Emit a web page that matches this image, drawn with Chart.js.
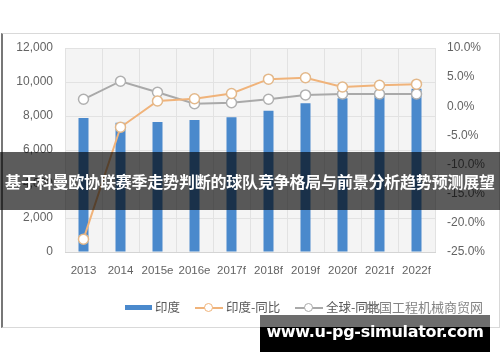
<!DOCTYPE html>
<html>
<head>
<meta charset="utf-8">
<script src="https://cdn.jsdelivr.net/npm/chart.js"></script>
<style>
  html, body { margin: 0; padding: 0; background: #ffffff; }
  #wrap { position: relative; width: 500px; height: 362px; overflow: hidden; font-family: "Liberation Sans", "Noto Sans CJK SC", sans-serif; }
  #frame { position: absolute; left: 1px; top: 33px; width: 496px; height: 293px; border: 1px solid #d9d9d9; border-left: 2px solid #777; }
  canvas { position: absolute; left: 0; top: 0; }
  #legend { position: absolute; top: 298px; left: 0; width: 500px; height: 18px; font: 12.5px "Noto Sans CJK SC", sans-serif; color: #595959; }
  #legend span { position: absolute; top: 0; line-height: 18px; white-space: nowrap; }
  .sw { position: absolute; }
  #banner { position: absolute; left: 0; top: 152px; width: 500px; height: 58px; background: rgba(0,0,0,0.64); color: #fff; font: bold 16px "Noto Sans CJK SC", sans-serif; line-height: 58px; text-align: center; white-space: nowrap; letter-spacing: -0.2px; }
  #wm1 { position: absolute; left: 366px; top: 297px; font: 13px "Noto Sans CJK SC", sans-serif; color: rgba(110,110,110,0.85); white-space: nowrap; }
  #wmgray { position: absolute; left: 260px; top: 315px; width: 230px; height: 12px; background: #6d6d6d; }
  #wmblack { position: absolute; left: 260px; top: 327px; width: 230px; height: 25px; background: #000; }
  #wmtext { position: absolute; left: 260px; top: 322px; width: 230px; height: 28px; line-height: 28px; text-align: center; color: #fff; font: bold 16px "DejaVu Sans", sans-serif; white-space: nowrap; letter-spacing: -0.3px; }
</style>
</head>
<body>
<div id="wrap">
  <div id="frame"></div>
  <canvas id="c" width="500" height="362"></canvas>
  <div id="legend"></div>
  <div id="wm1">中国工程机械商贸网</div>
  <div id="banner">基于科曼欧协联赛季走势判断的球队竞争格局与前景分析趋势预测展望</div>
  <div id="wmgray"></div>
  <div id="wmblack"></div>
  <div id="wmtext">www.u-pg-simulator.com</div>
</div>
<script>
const categories = ["2013", "2014", "2015e", "2016e", "2017f", "2018f", "2019f", "2020f", "2021f", "2022f"];
const indiaSales = [7880, 7600, 7650, 7760, 7920, 8310, 8750, 9040, 9400, 9600];
const indiaYoY = [-22.8, -3.6, 0.9, 1.3, 2.2, 4.65, 4.9, 3.3, 3.6, 3.8];
const globalYoY = [1.2, 4.3, 2.4, 0.45, 0.6, 1.2, 1.95, 2.1, 2.1, 2.1];
const seriesNames = ["印度", "印度-同比", "全球-同比"];
const leftTicks = { min: 0, max: 12000, step: 2000 };
const rightTicks = { min: -25, max: 10, step: 5 };

const barColor = "#4a89cc";
const orangeColor = "#f0b37a";
const greyColor = "#a9a9a9";
const labelColor = "#636363";

const plotBg = {
  id: "plotBg",
  beforeDraw(chart) {
    const a = chart.chartArea, ctx = chart.ctx;
    ctx.save();
    ctx.fillStyle = "#f4f4f4";
    ctx.fillRect(a.left, a.top, a.right - a.left, a.bottom - a.top);
    ctx.restore();
  }
};

new Chart(document.getElementById("c"), {
  data: {
    labels: categories,
    datasets: [
      { type: "line", label: seriesNames[1], data: indiaYoY, yAxisID: "y1", order: 1,
        borderColor: orangeColor, borderWidth: 2, pointRadius: 5, pointBorderWidth: 1.5,
        pointBackgroundColor: "#ffffff", pointBorderColor: "#e3b88a", tension: 0 },
      { type: "line", label: seriesNames[2], data: globalYoY, yAxisID: "y1", order: 2,
        borderColor: greyColor, borderWidth: 2, pointRadius: 5, pointBorderWidth: 1.5,
        pointBackgroundColor: "#ffffff", pointBorderColor: "#b0b0b0", tension: 0 },
      { type: "bar", label: seriesNames[0], data: indiaSales, yAxisID: "y", order: 3,
        backgroundColor: barColor, barPercentage: 0.54, categoryPercentage: 0.5 }
    ]
  },
  options: {
    responsive: false,
    animation: false,
    layout: { padding: { left: 0, right: 0, top: 48, bottom: 80 } },
    plugins: { legend: { display: false }, tooltip: { enabled: false } },
    scales: {
      x: {
        offset: true,
        grid: { color: "#e2e2e2", drawTicks: false, offset: true },
        border: { color: "#d4d4d4" },
        ticks: { color: labelColor, font: { family: "Liberation Sans", size: 11.5 }, padding: 12, maxRotation: 0, autoSkip: false },
        afterFit(s) { s.height = 30; }
      },
      y: {
        position: "left", min: leftTicks.min, max: leftTicks.max,
        grid: { color: "#e2e2e2", drawTicks: false },
        border: { display: false },
        ticks: { stepSize: leftTicks.step, color: labelColor, padding: 12, font: { family: "Liberation Sans", size: 12 },
          callback: v => v.toLocaleString("en-US") },
        afterFit(s) { s.width = 65; }
      },
      y1: {
        position: "right", min: rightTicks.min, max: rightTicks.max,
        grid: { display: false, drawTicks: false },
        border: { display: false },
        ticks: { stepSize: rightTicks.step, color: labelColor, padding: 12, font: { family: "Liberation Sans", size: 12 },
          callback: v => v.toFixed(1) + "%" },
        afterFit(s) { s.width = 65; }
      }
    }
  },
  plugins: [plotBg]
});

// legend (HTML)
const lg = document.getElementById("legend");
lg.innerHTML =
  '<div class="sw" style="left:125px;top:7px;width:27px;height:5px;background:' + barColor + '"></div>' +
  '<span style="left:155px">' + seriesNames[0] + '</span>' +
  '<div class="sw" style="left:195px;top:9px;width:28px;height:2px;background:' + orangeColor + '"></div>' +
  '<div class="sw" style="left:204px;top:5px;width:7px;height:7px;border:1.5px solid ' + orangeColor + ';border-radius:50%;background:#fff"></div>' +
  '<span style="left:226px">' + seriesNames[1] + '</span>' +
  '<div class="sw" style="left:295px;top:9px;width:28px;height:2px;background:' + greyColor + '"></div>' +
  '<div class="sw" style="left:304px;top:5px;width:7px;height:7px;border:1.5px solid ' + greyColor + ';border-radius:50%;background:#fff"></div>' +
  '<span style="left:326px">' + seriesNames[2] + '</span>';
</script>
</body>
</html>
